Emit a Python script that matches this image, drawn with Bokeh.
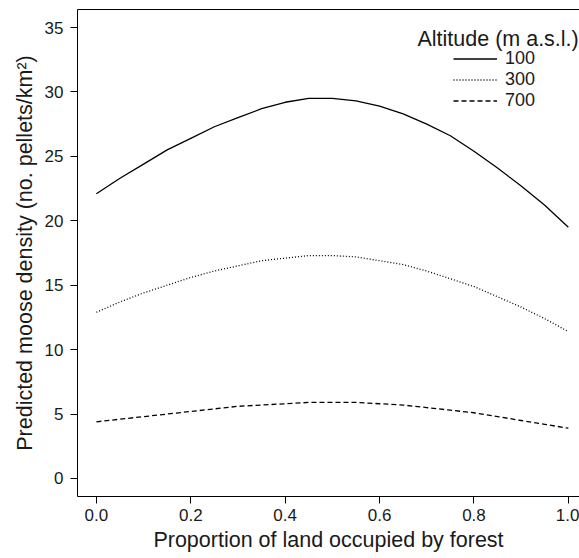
from bokeh.plotting import figure
from bokeh.models import (Range1d, LinearAxis, Legend, LegendItem, Label,
                          FixedTicker, PrintfTickFormatter)
from bokeh.embed import file_html
from bokeh.resources import INLINE

# ---- data ----
forest = [0.0, 0.05, 0.1, 0.15, 0.2, 0.25, 0.3, 0.35, 0.4, 0.45, 0.5,
          0.55, 0.6, 0.65, 0.7, 0.75, 0.8, 0.85, 0.9, 0.95, 1.0]
alt_100 = [22.1, 23.3, 24.4, 25.5, 26.4, 27.3, 28.0, 28.7, 29.2, 29.5, 29.5,
           29.3, 28.9, 28.3, 27.5, 26.6, 25.4, 24.1, 22.7, 21.2, 19.5]
alt_300 = [12.9, 13.7, 14.4, 15.0, 15.6, 16.1, 16.5, 16.9, 17.1, 17.3, 17.3,
           17.2, 16.9, 16.6, 16.1, 15.5, 14.9, 14.1, 13.3, 12.4, 11.4]
alt_700 = [4.4, 4.6, 4.8, 5.0, 5.2, 5.4, 5.6, 5.7, 5.8, 5.9, 5.9,
           5.9, 5.8, 5.7, 5.5, 5.3, 5.1, 4.8, 4.5, 4.2, 3.9]
series_labels = ["100", "300", "700"]
x_ticks = [0.0, 0.2, 0.4, 0.6, 0.8, 1.0]
y_ticks = [0, 5, 10, 15, 20, 25, 30, 35]

FONT = "Liberation Sans"
TXT = "#1a1a1a"

p = figure(width=579, height=558, output_backend="svg", toolbar_location=None,
           x_range=Range1d(-0.04, 1.0236), y_range=Range1d(-1.4, 36.4),
           min_border_left=77, min_border_right=0, min_border_top=9,
           min_border_bottom=62)
p.background_fill_color = "white"
p.border_fill_color = "white"
p.outline_line_color = None
p.xgrid.visible = False
p.ygrid.visible = False

for ax in (p.xaxis[0], p.yaxis[0]):
    ax.axis_line_color = "black"
    ax.axis_line_width = 1
    ax.major_tick_line_color = "black"
    ax.major_tick_in = 0
    ax.major_tick_out = 7
    ax.minor_tick_line_color = None
    ax.major_label_text_font = FONT
    ax.major_label_text_font_size = "17px"
    ax.major_label_text_color = TXT
    ax.axis_label_text_font = FONT
    ax.axis_label_text_font_size = "21.5px"
    ax.axis_label_text_font_style = "normal"
    ax.axis_label_text_color = TXT

p.xaxis.ticker = FixedTicker(ticks=x_ticks)
p.yaxis.ticker = FixedTicker(ticks=y_ticks)
p.xaxis.formatter = PrintfTickFormatter(format="%.1f")
p.xaxis.axis_label = "Proportion of land occupied by forest"
p.yaxis.axis_label = "Predicted moose density (no. pellets/km²)"
p.xaxis.major_label_standoff = 5
p.yaxis.major_label_standoff = 7
p.xaxis.axis_label_standoff = 4
p.yaxis.axis_label_standoff = 5

top = LinearAxis(axis_line_color="black", major_tick_line_color=None,
                 minor_tick_line_color=None, major_label_text_font_size="0px",
                 major_tick_out=0, major_tick_in=0, major_label_standoff=0,
                 ticker=FixedTicker(ticks=[]))
p.add_layout(top, "above")

r1 = p.line(forest, alt_100, line_color="black", line_width=1.3)
r2 = p.line(forest, alt_300, line_color="black", line_width=1.3, line_dash="1 2")
r3 = p.line(forest, alt_700, line_color="black", line_width=1.3, line_dash="5 3")

legend = Legend(items=[LegendItem(label=series_labels[0], renderers=[r1]),
                       LegendItem(label=series_labels[1], renderers=[r2]),
                       LegendItem(label=series_labels[2], renderers=[r3])],
                location=(376, 385), padding=0, margin=0, spacing=0,
                glyph_width=44, glyph_height=21, label_height=21,
                label_standoff=8, label_text_font=FONT,
                label_text_font_size="18px", label_text_color=TXT,
                background_fill_alpha=0, border_line_color=None)
p.add_layout(legend, "center")

p.add_layout(Label(x=1.022, y=34.1, text="Altitude (m a.s.l.)",
                   text_align="right", text_baseline="middle",
                   text_font=FONT, text_font_size="21.5px", text_color=TXT))

open("out.html", "w").write(file_html(p, INLINE))
